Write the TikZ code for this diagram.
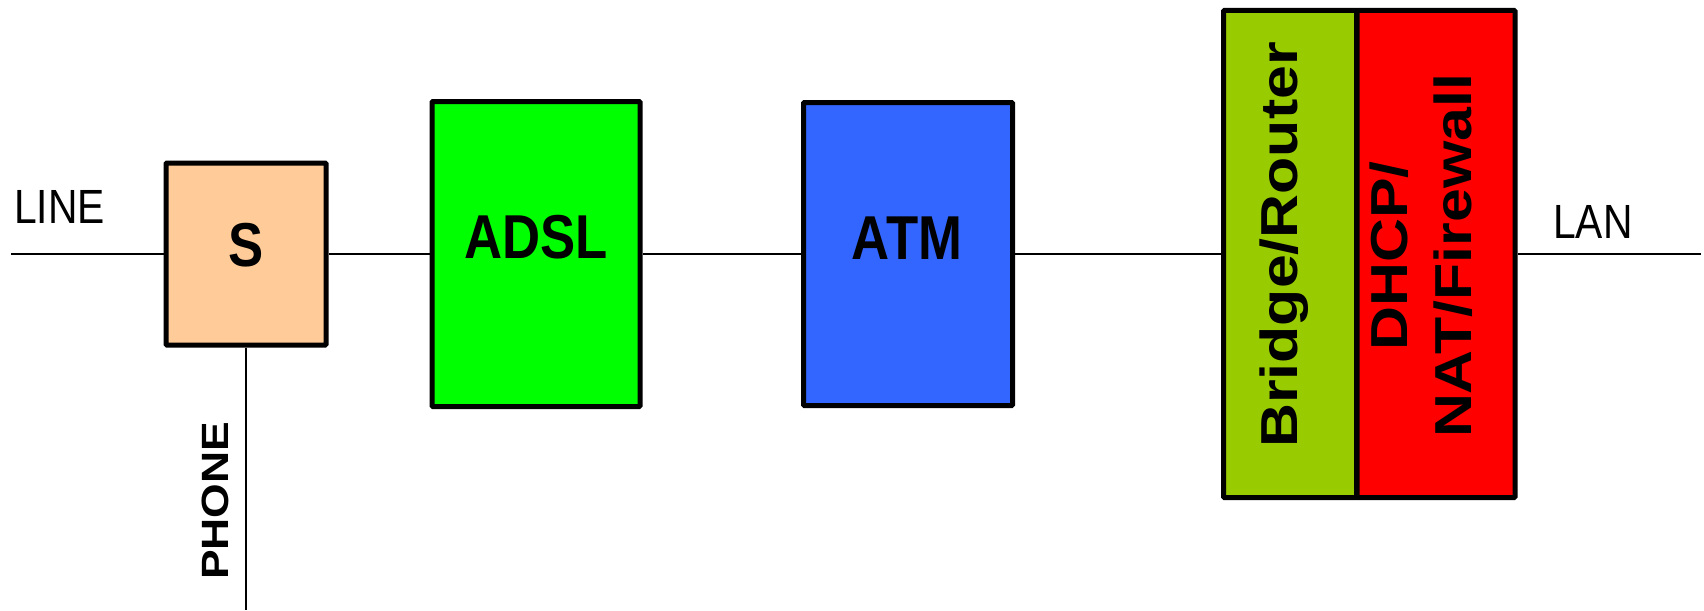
\documentclass[tikz,border=0pt]{standalone}
\usepackage{fontspec}
\usepackage{tikz}
\setmainfont{Liberation Sans}
\newfontfamily\flatfont[FakeStretch=0.85]{Liberation Sans}
\newfontfamily\tallfont[FakeStretch=1.17]{Liberation Sans}
\definecolor{splitter}{HTML}{FFCC99}
\definecolor{adslgreen}{HTML}{00FF00}
\definecolor{atmblue}{HTML}{3366FF}
\definecolor{routergreen}{HTML}{99CC00}
\definecolor{natred}{HTML}{FF0000}

\begin{document}
\begin{tikzpicture}
	[x=1pt, y=-1pt,
	 box/.style={rectangle, draw, line width=5pt, inner sep=0pt, rounded corners=1pt},
	 big label/.style={font=\flatfont\bfseries\fontsize{62}{62}\selectfont, inner sep=0pt, anchor=base},
	 side label/.style={font=\tallfont\bfseries\fontsize{52}{64}\selectfont, inner sep=0pt, rotate=90, align=center},
	 small label/.style={font=\flatfont\fontsize{48}{48}\selectfont, inner sep=0pt, anchor=base west},
	 phone label/.style={font=\tallfont\bfseries\fontsize{38}{38}\selectfont, inner sep=0pt, rotate=90, anchor=base west},
	 wire/.style={line width=1.7pt}]
	\useasboundingbox (0,0) rectangle (1704,610);
	\coordinate (linein) at (11,254);
	\coordinate (lanout) at (1701,254);
	\coordinate (phoneout) at (246,610);
	\node[box, fill=splitter, minimum width=160pt, minimum height=182pt] (s) at (246,254) {};
	\node[box, fill=adslgreen, minimum width=208pt, minimum height=305pt] (adsl) at (536,254) {};
	\node[box, fill=atmblue, minimum width=209pt, minimum height=303pt] (atm) at (908,254) {};
	\node[box, fill=routergreen, minimum width=133pt, minimum height=487pt] (bridge) at (1290,254) {};
	\node[box, fill=natred, minimum width=158pt, minimum height=487pt] (dhcp) at (1436,254) {};
	\node[big label] (stext) at (246,266) {S};
	\node[big label] (adsltext) at (536,258) {ADSL};
	\node[big label] (atmtext) at (907,259) {ATM};
	\node[side label, anchor=base] (bridgetext) at (1297,245) {Bridge/Router};
	\node[side label] (dhcptext) at (1421,256) {DHCP/\\NAT/Firewall};
	\node[small label] (linetext) at (14,223) {LINE};
	\node[small label] (lantext) at (1553,238) {LAN};
	\node[phone label] (phonetext) at (228,580) {PHONE};
	\path[wire] (linein) edge (s);
	\path[wire] (s) edge (adsl);
	\path[wire] (adsl) edge (atm);
	\path[wire] (atm) edge (bridge);
	\path[wire] (dhcp) edge (lanout);
	\path[wire] (s) edge (phoneout);
\end{tikzpicture}
\end{document}
